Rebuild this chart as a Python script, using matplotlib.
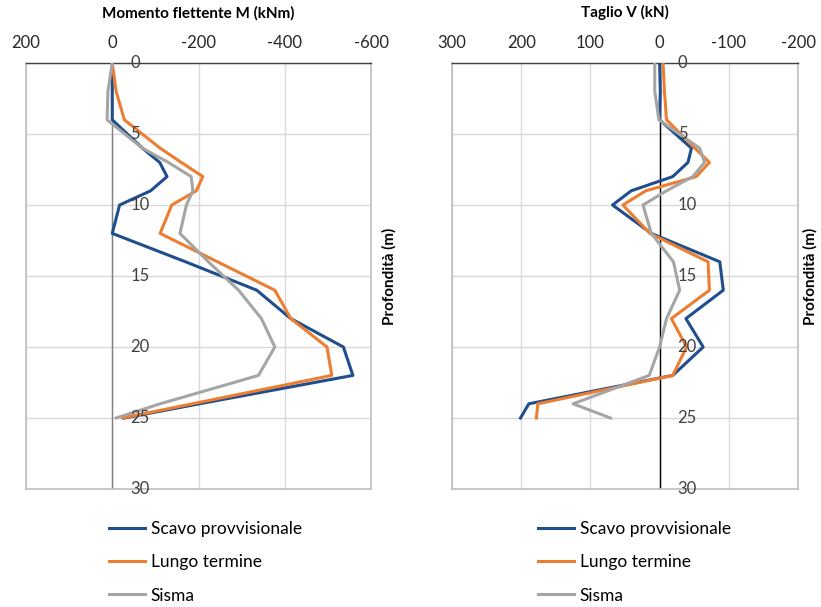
import matplotlib.pyplot as plt
from matplotlib.transforms import blended_transform_factory, offset_copy

plt.rcParams['font.family'] = ['Lato', 'DejaVu Sans']
plt.rcParams['axes.unicode_minus'] = False

# depth (m)
depth = [0, 2, 4, 6, 7, 8, 9, 10, 12, 14, 16, 18, 20, 22, 24, 25]

# bending moment M (kNm)
m_scavo = [0, 0, 0, -70, -110, -127, -89, -17, 0, -170, -335, -414, -536, -558, -202, -28]
m_lungo = [0, -9, -28, -111, -160, -210, -195, -138, -111, -244, -377, -414, -498, -509, -186, -24]
m_sisma = [0, 10, 12, -70, -130, -183, -187, -172, -157, -223, -293, -346, -377, -339, -111, -9]

# shear V (kN)
v_scavo = [0, -1, 0, -46, -41, -19, 41, 68, 12, -87, -92, -38, -63, -19, 189, 201]
v_lungo = [-5, -7, -10, -51, -72, -53, 20, 53, 14, -70, -72, -17, -39, -19, 176, 178]
v_sisma = [7, 7, 1, -58, -65, -48, -10, 24, 12, -20, -29, -10, 0, 15, 125, 71]

series_names = ['Scavo provvisionale', 'Lungo termine', 'Sisma']
colors = ['#1F4E8C', '#ED7D31', '#A5A5A5']

m_ticks = [200, 0, -200, -400, -600]
v_ticks = [300, 200, 100, 0, -100, -200]
y_ticks = [0, 5, 10, 15, 20, 25, 30]

fig = plt.figure(figsize=(8.21, 6.07), dpi=100)
ax1 = fig.add_axes([26 / 821, 1 - 489 / 607, 345 / 821, 426 / 607])
ax2 = fig.add_axes([452 / 821, 1 - 489 / 607, 346 / 821, 426 / 607])


def setup(ax, xticks, title, zero_color, leg_x, ylab_pad):
    ax.set_xlim(xticks[0], xticks[-1])
    ax.set_ylim(30, 0)
    ax.set_xticks(xticks)
    ax.set_xticklabels([str(t) for t in xticks], fontsize=12, color='#262626')
    ax.set_yticks(y_ticks)
    ax.set_yticklabels([])
    ax.xaxis.tick_top()
    ax.tick_params(axis='x', length=0, pad=9)
    ax.tick_params(axis='y', length=0)
    ax.grid(True, color='#D9D9D9', lw=1)
    ax.set_axisbelow(True)
    for s in ['left', 'right', 'bottom']:
        ax.spines[s].set_color('#BFBFBF')
        ax.spines[s].set_linewidth(1.2)
    ax.spines['top'].set_color('#404040')
    ax.spines['top'].set_linewidth(1)
    ax.axvline(0, color=zero_color, lw=1, zorder=1.5)
    ax.set_title(title, fontsize=11, fontweight='bold', pad=33)
    ax.yaxis.set_label_position('right')
    ax.set_ylabel('Profondità (m)', fontsize=11, fontweight='bold', labelpad=ylab_pad)
    tr = offset_copy(blended_transform_factory(ax.transData, ax.transData),
                     fig=fig, x=13, y=0, units='points')
    for t in y_ticks:
        ax.text(0, t, str(t), transform=tr, ha='left', va='center',
                fontsize=12, color='#404040', clip_on=False, zorder=4)
    ax.legend(loc='upper left', bbox_to_anchor=(leg_x, 0.142),
              bbox_transform=fig.transFigure, frameon=False, fontsize=12.5,
              handlelength=2.1, handletextpad=0.3, labelspacing=1.0,
              borderpad=0, borderaxespad=0)


for vals, c, n in zip([m_scavo, m_lungo, m_sisma], colors, series_names):
    ax1.plot(vals, depth, color=c, lw=2.2, label=n, zorder=3)
for vals, c, n in zip([v_scavo, v_lungo, v_sisma], colors, series_names):
    ax2.plot(vals, depth, color=c, lw=2.2, label=n, zorder=3)

setup(ax1, m_ticks, 'Momento flettente M (kNm)', '#808080', 109 / 821, 8)
setup(ax2, v_ticks, 'Taglio V (kN)', '#000000', 538 / 821, 4)

fig.savefig('out.png', dpi=100)
